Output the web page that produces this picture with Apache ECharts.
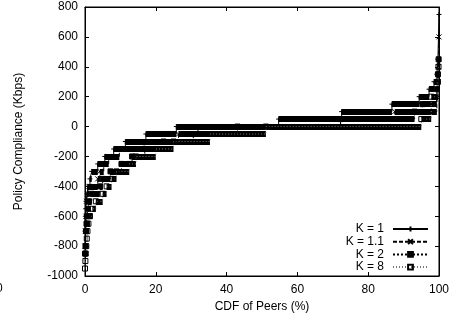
<!DOCTYPE html>
<html>
<head>
<meta charset="utf-8">
<script src="https://cdn.jsdelivr.net/npm/echarts@6/dist/echarts.min.js"></script>
<style>
  html, body { margin: 0; padding: 0; background: #fff; }
  #chart { width: 452px; height: 321px; }
</style>
</head>
<body>
<div id="chart"></div>
<script>
// each curve: level (Kbps) and the CDF (%) where that level starts; last one runs to 100
const k1Levels = [-700, -600, -550, -500, -450, -400, -350, -300, -250, -200, -150, -100, -50, 0, 50, 100, 150, 200, 250, 300, 350, 450, 750];
const k1Starts = [0, 0.1, 0.2, 0.3, 0.6, 0.8, 1.4, 1.9, 3.6, 5.6, 8.1, 11.4, 17.2, 25.8, 54.7, 72.5, 86.7, 94.4, 97.2, 98.6, 99.4, 99.7, 100];

const k11Levels = [-800, -700, -600, -500, -450, -400, -350, -300, -250, -200, -150, -100, -50, 0, 50, 100, 200, 300, 400, 600];
const k11Starts = [0, 0.14, 0.28, 0.42, 0.69, 1.1, 3.6, 4.2, 5.3, 6.7, 9.7, 16.7, 26.4, 31.9, 72.2, 87.5, 99.4, 99.7, 99.86, 100];

const k2Levels = [-850, -800, -700, -650, -600, -550, -500, -450, -400, -350, -300, -250, -200, -150, -100, -50, 0, 50, 100, 150, 250, 350, 450];
const k2Starts = [0, 0.14, 0.28, 0.42, 0.56, 0.83, 1.1, 1.9, 4.2, 5.0, 7.2, 10.3, 13.3, 16.9, 22.2, 30.6, 43.1, 72.2, 93.1, 95.3, 99.4, 99.7, 99.9];

const k8Levels = [-950, -900, -850, -800, -750, -700, -650, -600, -550, -500, -450, -400, -350, -300, -250, -200, -150, -100, -50, 0, 50, 200, 300, 400];
const k8Starts = [0, 0.11, 0.22, 0.36, 0.5, 0.69, 0.97, 1.39, 2.08, 3.06, 5.0, 6.1, 7.5, 8.9, 12.5, 14.4, 20.0, 25.0, 35.3, 51.1, 95.0, 97.8, 99.7, 99.86];

const xTicks = [0, 20, 40, 60, 80, 100];
const yTicks = [-1000, -800, -600, -400, -200, 0, 200, 400, 600, 800];

const curves = [
  { name: 'K = 1', levels: k1Levels, starts: k1Starts, dash: 'solid', color: '#000',
    symbol: 'path://M0,5L10,5M5,0L5,10' },
  { name: 'K = 1.1', levels: k11Levels, starts: k11Starts, dash: [4, 2], color: '#000',
    symbol: 'path://M0,0L10,10M10,0L0,10' },
  { name: 'K = 2', levels: k2Levels, starts: k2Starts, dash: [2, 2], color: '#000',
    symbol: 'rect', fill: '#000' },
  { name: 'K = 8', levels: k8Levels, starts: k8Starts, dash: [1, 2], color: '#777',
    symbol: 'rect' }
];

function segments(c) {
  return c.levels.map((lev, i) => {
    const end = i + 1 < c.starts.length ? c.starts[i + 1] : 100;
    return [c.starts[i], end, lev];
  });
}

const series = [];
curves.forEach(c => {
  const segs = segments(c);
  series.push({
    name: c.name + ' band',
    type: 'lines',
    coordinateSystem: 'cartesian2d',
    polyline: false,
    silent: true,
    z: 2,
    lineStyle: { color: '#000', width: 6, opacity: 1, cap: 'butt' },
    data: segs.map(s => ({ coords: [[s[0], s[2]], [s[1], s[2]]] }))
  });
  const pts = [];
  segs.forEach(s => {
    pts.push({ value: [s[0], s[2]] });
    pts.push({ value: [s[1], s[2]], symbol: 'none' });
  });
  series.push({
    name: c.name,
    type: 'line',
    z: 3,
    data: pts,
    symbol: c.symbol,
    symbolSize: 5,
    showSymbol: true,
    animation: false,
    lineStyle: { color: c.color, width: 1, type: c.dash },
    itemStyle: { color: c.fill || 'rgba(0,0,0,0)', borderColor: '#000', borderWidth: 1 }
  });
});

const font = 'Liberation Sans, Arial, Helvetica, sans-serif';
const chart = echarts.init(document.getElementById('chart'));
chart.setOption({
  animation: false,
  backgroundColor: '#fff',
  grid: { left: 85, right: 7, top: 7, bottom: 45, show: true, borderColor: '#000', borderWidth: 1 },
  legend: {
    data: curves.map(c => c.name),
    orient: 'vertical',
    right: 18,
    top: 218,
    align: 'right',
    itemWidth: 35,
    itemHeight: 6,
    itemGap: 0.7,
    selectedMode: false,
    textStyle: { fontFamily: font, fontSize: 12, color: '#000', lineHeight: 12, padding: [0, 4, 0, 0] }
  },
  xAxis: [
    {
      type: 'value', min: xTicks[0], max: xTicks[xTicks.length - 1], interval: 20,
      position: 'bottom',
      name: 'CDF of Peers (%)', nameLocation: 'middle', nameGap: 25,
      nameTextStyle: { fontFamily: font, fontSize: 12, color: '#000' },
      axisLine: { show: true, onZero: false, lineStyle: { color: '#000', width: 1 } },
      axisTick: { inside: true, length: 4, lineStyle: { color: '#000' } },
      axisLabel: { fontFamily: font, fontSize: 12, color: '#000', margin: 8 },
      splitLine: { show: false }
    },
    {
      type: 'value', min: xTicks[0], max: xTicks[xTicks.length - 1], interval: 20,
      position: 'top',
      axisLine: { show: true, onZero: false, lineStyle: { color: '#000', width: 1 } },
      axisTick: { inside: true, length: 4, lineStyle: { color: '#000' } },
      axisLabel: { show: false },
      splitLine: { show: false }
    }
  ],
  yAxis: [
    {
      type: 'value', min: yTicks[0], max: yTicks[yTicks.length - 1], interval: 200,
      position: 'left',
      name: 'Policy Compliance (Kbps)', nameLocation: 'middle', nameGap: 60, nameRotate: 90,
      nameTextStyle: { fontFamily: font, fontSize: 12, color: '#000' },
      axisLine: { show: true, onZero: false, lineStyle: { color: '#000', width: 1 } },
      axisTick: { inside: true, length: 4, lineStyle: { color: '#000' } },
      axisLabel: { fontFamily: font, fontSize: 12, color: '#000', margin: 7, formatter: v => String(v) },
      splitLine: { show: false }
    },
    {
      type: 'value', min: yTicks[0], max: yTicks[yTicks.length - 1], interval: 200,
      position: 'right',
      axisLine: { show: true, onZero: false, lineStyle: { color: '#000', width: 1 } },
      axisTick: { inside: true, length: 4, lineStyle: { color: '#000' } },
      axisLabel: { show: false },
      splitLine: { show: false }
    }
  ],
  graphic: [
    { type: 'text', left: -4, top: 283, style: { text: '0', font: '12px ' + font, fill: '#000' } }
  ],
  series: series
});
</script>
</body>
</html>
